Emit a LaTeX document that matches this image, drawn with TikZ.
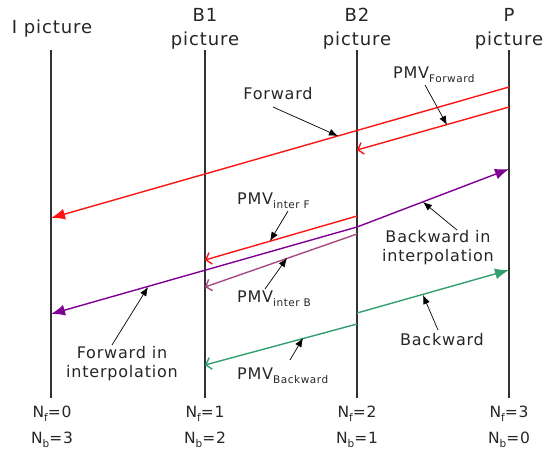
\documentclass[tikz,border=0pt]{standalone}
\usepackage{fontspec}
\setmainfont[LetterSpace=5]{DejaVu Sans}
\usetikzlibrary{arrows.meta}
\definecolor{myred}{RGB}{255,20,20}
\definecolor{mypurple}{RGB}{128,0,150}
\definecolor{mymauve}{RGB}{165,75,130}
\definecolor{mygreen}{RGB}{50,160,110}
\definecolor{vgray}{RGB}{50,50,50}
\newcommand{\mysub}[1]{\raisebox{-0.45ex}{\fontsize{10.5}{11}\selectfont #1}}
\tikzset{
  vline/.style={draw=vgray, line width=2.2pt},
  mvline/.style={line width=1.4pt},
  filledhead/.style={-{Latex[length=14pt,width=11pt]}},
  openhead/.style={-{Straight Barb[length=5pt,width=12pt,line width=1.4pt]}},
  pointer/.style={draw=black, line width=0.7pt, -{Latex[length=9pt,width=7pt]}},
  lbl/.style={font=\fontsize{16}{19}\selectfont, text=black!85, inner sep=0pt},
  title/.style={font=\fontsize{18}{24}\selectfont, text=black!85, inner sep=0pt, align=center},
  bot/.style={font=\fontsize{15.5}{19}\selectfont, text=black!85, inner sep=0pt}
}
\begin{document}
\begin{tikzpicture}[x=1pt,y=-1pt]
\useasboundingbox (0,0) rectangle (549,451);
% vertical lines
\coordinate (It) at (51,50);  \coordinate (Ib) at (51,398);
\coordinate (B1t) at (205,50); \coordinate (B1b) at (205,398);
\coordinate (B2t) at (357,50); \coordinate (B2b) at (357,398);
\coordinate (Pt) at (509,50);  \coordinate (Pb) at (509,398);
\draw[vline] (It) -- (Ib);
\draw[vline] (B1t) -- (B1b);
\draw[vline] (B2t) -- (B2b);
\draw[vline] (Pt) -- (Pb);
% titles
\node[title] (tI) at (52,29) {I picture};
\node[title] (tB1) at (205,29) {B1\\picture};
\node[title] (tB2) at (357,29) {B2\\picture};
\node[title] (tP) at (509,29) {P\\picture};
% bottom labels
\node[bot] (nfI) at (52,414) {N\mysub{f}=0};
\node[bot] (nbI) at (52,440) {N\mysub{b}=3};
\node[bot] (nfB1) at (205,414) {N\mysub{f}=1};
\node[bot] (nbB1) at (205,440) {N\mysub{b}=2};
\node[bot] (nfB2) at (357,414) {N\mysub{f}=2};
\node[bot] (nbB2) at (357,440) {N\mysub{b}=1};
\node[bot] (nfP) at (509,414) {N\mysub{f}=3};
\node[bot] (nbP) at (509,440) {N\mysub{b}=0};
% line end points
\coordinate (fwdS) at (509,87);  \coordinate (fwdE) at (51,218);
\coordinate (pfS) at (509,107);  \coordinate (pfE) at (357,150);
\coordinate (ifS) at (357,216);  \coordinate (ifE) at (205,260);
\coordinate (ibS) at (357,234);  \coordinate (ibE) at (205,287);
\coordinate (mid) at (357,227);
\coordinate (fiE) at (51,314);   \coordinate (biE) at (509,169);
\coordinate (bwS) at (357,313);  \coordinate (bwE) at (509,270);
\coordinate (pbS) at (357,324);  \coordinate (pbE) at (205,365);
% motion vectors
\draw[mvline, myred, filledhead] (fwdS) -- (fwdE);
\draw[mvline, myred, openhead] (pfS) -- (pfE);
\draw[mvline, myred, openhead] (ifS) -- (ifE);
\draw[mvline, mymauve, openhead] (ibS) -- (ibE);
\draw[mvline, mypurple, filledhead] (mid) -- (fiE);
\draw[mvline, mypurple, filledhead] (mid) -- (biE);
\draw[mvline, mygreen, filledhead] (bwS) -- (bwE);
\draw[mvline, mygreen, openhead] (pbS) -- (pbE);
% labels
\node[lbl] (lfwd) at (278,94) {Forward};
\node[lbl, anchor=west] (lpf) at (393,75) {PMV\mysub{Forward}};
\node[lbl, anchor=west] (lif) at (237,201) {PMV\mysub{inter F}};
\node[lbl, anchor=west] (lib) at (237,299) {PMV\mysub{inter B}};
\node[lbl, anchor=west] (lpb) at (237,376) {PMV\mysub{Backward}};
\node[lbl, align=center] (lbi) at (438,248) {Backward in\\interpolation};
\node[lbl, align=center] (lfi) at (122,364) {Forward in\\interpolation};
\node[lbl] (lbw) at (442,340) {Backward};
% pointer tails and tips
\coordinate (tfwd) at (273,107); \coordinate (hfwd) at (338,136);
\coordinate (tpf) at (425,85);   \coordinate (hpf) at (447,125);
\coordinate (tif) at (288,211);  \coordinate (hif) at (270,241);
\coordinate (tib) at (265,289);  \coordinate (hib) at (287,258);
\coordinate (tbi) at (457,230);  \coordinate (hbi) at (423,202);
\coordinate (tfi) at (112,345);  \coordinate (hfi) at (148,287);
\coordinate (tbw) at (438,330);  \coordinate (hbw) at (423,295);
\coordinate (tpb) at (290,360);  \coordinate (hpb) at (303,338);
\draw[pointer] (tfwd) -- (hfwd);
\draw[pointer] (tpf) -- (hpf);
\draw[pointer] (tif) -- (hif);
\draw[pointer] (tib) -- (hib);
\draw[pointer] (tbi) -- (hbi);
\draw[pointer] (tfi) -- (hfi);
\draw[pointer] (tbw) -- (hbw);
\draw[pointer] (tpb) -- (hpb);
\end{tikzpicture}
\end{document}
